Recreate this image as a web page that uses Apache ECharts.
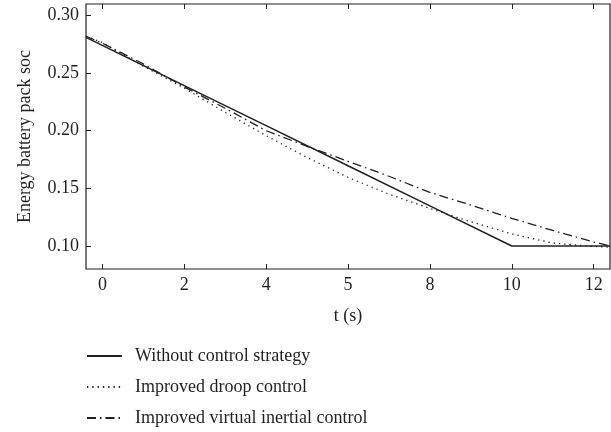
<!DOCTYPE html>
<html>
<head>
<meta charset="utf-8">
<script src="https://cdn.jsdelivr.net/npm/echarts@6/dist/echarts.min.js"></script>
<style>
  html, body { margin: 0; padding: 0; background: #fff; }
  #main { width: 611px; height: 432px; }
</style>
</head>
<body>
<div id="main"></div>
<script>
// time axis (s) and soc values
var tWithout = [-0.4, 2, 4, 6, 8, 10, 12.4]
var socWithout = [0.281, 0.2392, 0.2044, 0.1696, 0.1348, 0.100, 0.100]

var tDroop = [-0.4, 0, 1, 2, 3, 4, 5, 6, 7, 8, 9, 10, 11, 12, 12.4]
var socDroop = [0.282, 0.2765, 0.256, 0.237, 0.216, 0.1957, 0.1768, 0.1595, 0.145, 0.1325, 0.121, 0.1105, 0.1025, 0.0995, 0.099]

var tInertia = [-0.4, 0, 1, 2, 3, 4, 5, 6, 7, 8, 9, 10, 11, 12, 12.4]
var socInertia = [0.282, 0.276, 0.258, 0.238, 0.2195, 0.200, 0.1865, 0.1735, 0.1605, 0.1465, 0.1355, 0.124, 0.1135, 0.1035, 0.100]

var xTicks = [0, 2, 4, 6, 8, 10, 12]
var xTickLabels = ['0', '2', '4', '5', '8', '10', '12']
var yTicks = [0.10, 0.15, 0.20, 0.25, 0.30]

var seriesNames = ['Without control strategy', 'Improved droop control', 'Improved virtual inertial control']

var ink = '#231f20'
var font = 'Liberation Serif'

function pairs(xs, ys) {
  var out = []
  for (var i = 0; i < xs.length; i++) out.push([xs[i], ys[i]])
  return out
}

var chart = echarts.init(document.getElementById('main'))
chart.setOption({
  animation: false,
  grid: {
    left: 86, right: 1, top: 4, bottom: 163,
    show: true, borderColor: ink, borderWidth: 1.2, backgroundColor: '#fff'
  },
  legend: {
    orient: 'vertical',
    left: 81,
    top: 340,
    height: 110,
    itemWidth: 35,
    itemHeight: 10,
    itemGap: 9,
    data: seriesNames,
    // hide the marker dot, keep the line sample
    itemStyle: { color: 'rgba(0,0,0,0)', borderWidth: 0 },
    textStyle: { fontFamily: font, fontSize: 18, color: ink, lineHeight: 22, padding: [0, 0, 0, 8] }
  },
  xAxis: [{
    type: 'value',
    min: -0.4, max: 12.4,
    name: 't (s)',
    nameLocation: 'middle',
    nameGap: 38,
    nameTextStyle: { fontFamily: font, fontSize: 18, color: ink },
    axisLine: { show: false, onZero: false },
    axisTick: { show: true, inside: true, length: 5, customValues: xTicks, lineStyle: { color: ink } },
    axisLabel: {
      customValues: xTicks, margin: 7,
      fontFamily: font, fontSize: 18, color: ink,
      formatter: function (v) { return xTickLabels[xTicks.indexOf(Math.round(v))] }
    },
    splitLine: { show: false }
  }, {
    type: 'value',
    position: 'top',
    min: -0.4, max: 12.4,
    axisLine: { show: false, onZero: false },
    axisTick: { show: true, inside: true, length: 5, customValues: xTicks, lineStyle: { color: ink } },
    axisLabel: { show: false },
    splitLine: { show: false }
  }],
  yAxis: {
    type: 'value',
    min: 0.08, max: 0.31,
    name: 'Energy battery pack soc',
    nameLocation: 'middle',
    nameGap: 52,
    nameTextStyle: { fontFamily: font, fontSize: 18, color: ink },
    axisLine: { show: false, onZero: false },
    axisTick: { show: true, inside: true, length: 5, customValues: yTicks, lineStyle: { color: ink } },
    axisLabel: {
      customValues: yTicks, margin: 7,
      fontFamily: font, fontSize: 18, color: ink,
      formatter: function (v) { return v.toFixed(2) }
    },
    splitLine: { show: false }
  },
  series: [{
    name: seriesNames[0],
    type: 'line',
    symbol: 'none',
    data: pairs(tWithout, socWithout),
    lineStyle: { color: ink, width: 1.5, type: 'solid' },
    itemStyle: { color: ink }
  }, {
    name: seriesNames[1],
    type: 'line',
    symbol: 'none',
    data: pairs(tDroop, socDroop),
    lineStyle: { color: ink, width: 1.3, type: [1.3, 4] },
    itemStyle: { color: ink }
  }, {
    name: seriesNames[2],
    type: 'line',
    symbol: 'none',
    data: pairs(tInertia, socInertia),
    lineStyle: { color: ink, width: 1.3, type: [9, 4, 1.5, 4] },
    itemStyle: { color: ink }
  }]
})
</script>
</body>
</html>
